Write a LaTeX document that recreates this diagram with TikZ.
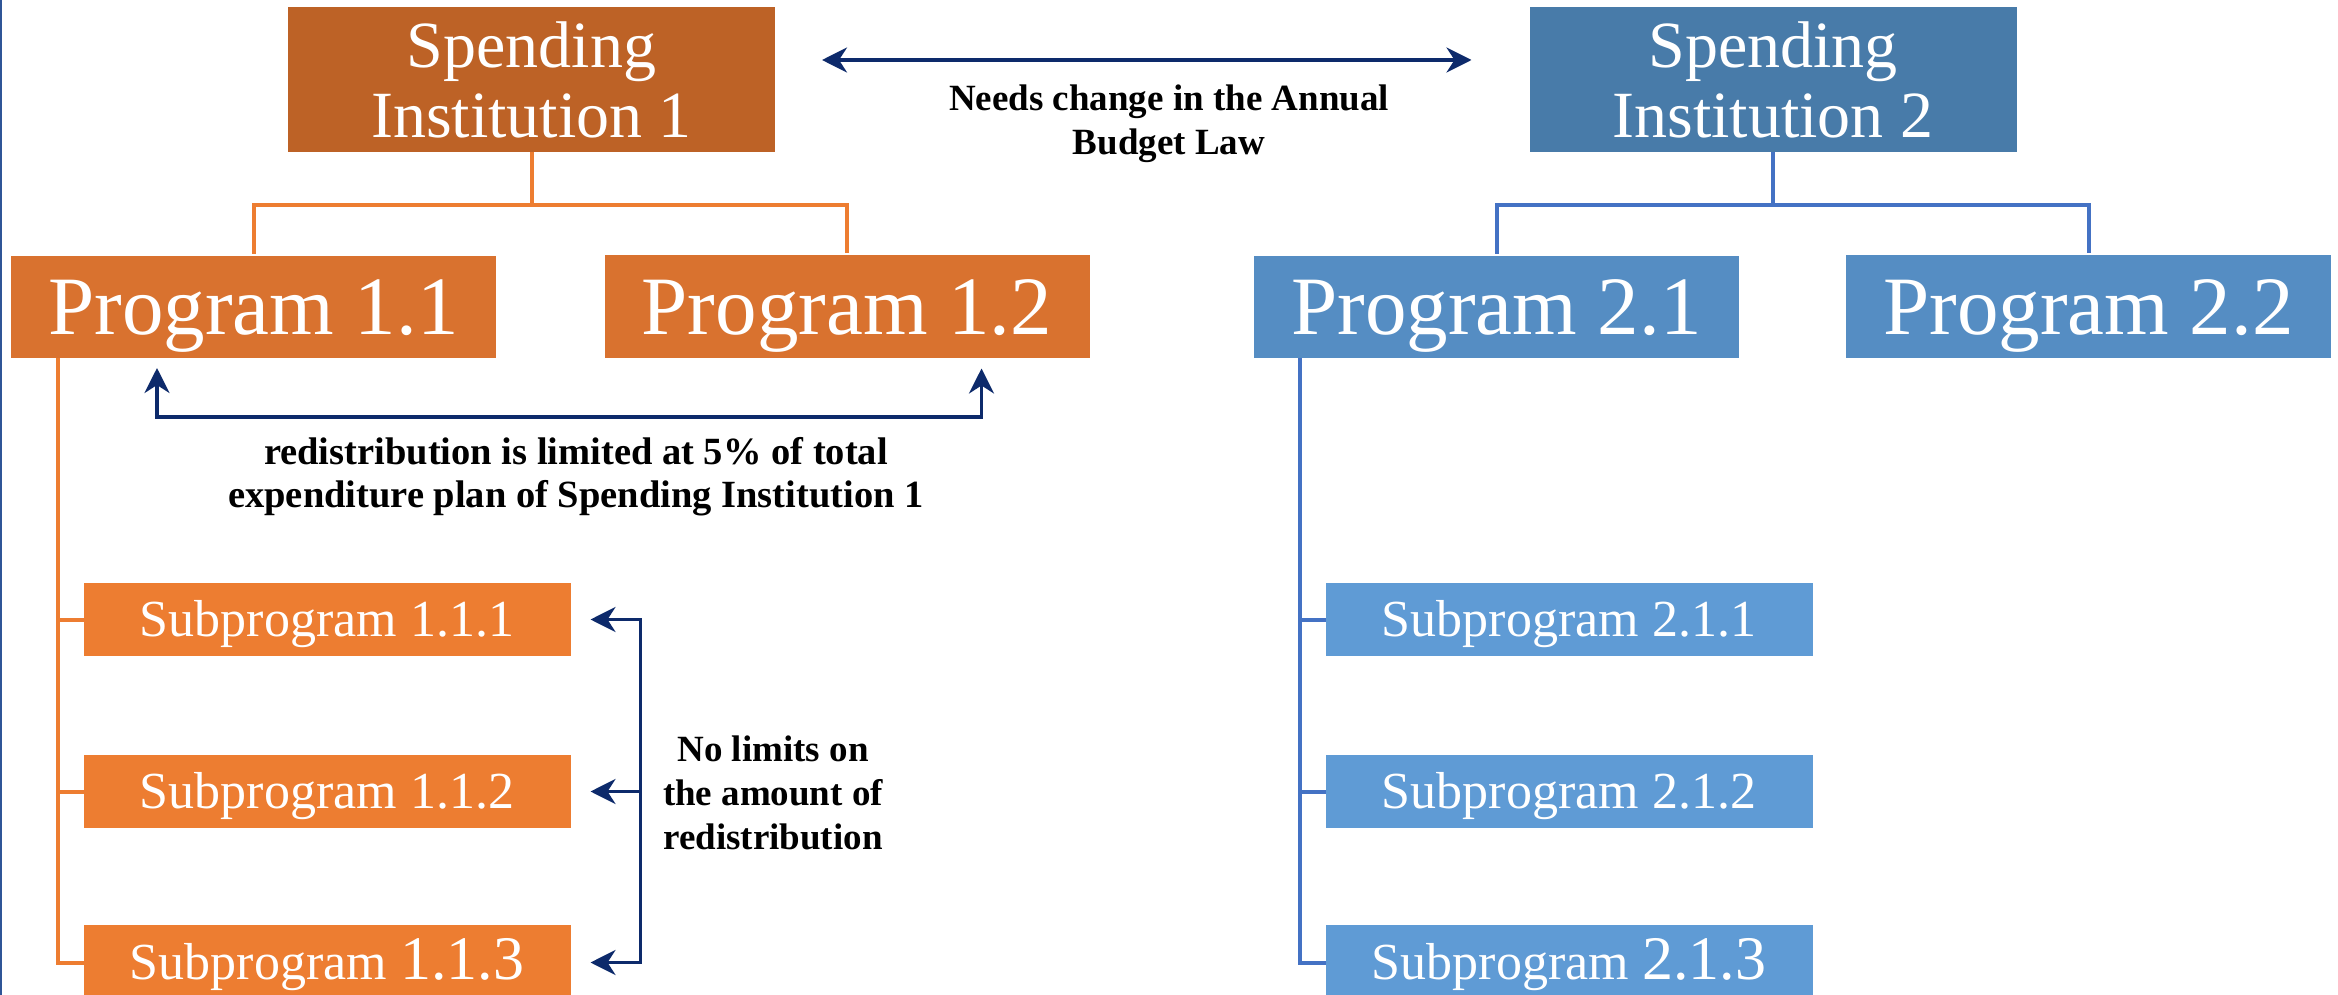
\documentclass[tikz,border=0pt]{standalone}
\usepackage{fontspec}
\setmainfont{Liberation Serif}
\usetikzlibrary{arrows.meta,calc}
\definecolor{instA}{HTML}{BD6226}
\definecolor{progA}{HTML}{D9722F}
\definecolor{subA}{HTML}{ED7D31}
\definecolor{instB}{HTML}{487BA9}
\definecolor{progB}{HTML}{558DC3}
\definecolor{subB}{HTML}{5F9BD5}
\definecolor{lineA}{HTML}{ED7D31}
\definecolor{lineB}{HTML}{4472C4}
\definecolor{arrownavy}{HTML}{0D2A6B}
\definecolor{edgeblue}{HTML}{2F5597}
\begin{document}
\begin{tikzpicture}[x=1pt,y=-1pt,
  >={Stealth[length=25pt,width=25pt,inset=8pt]},
  box/.style={inner sep=0pt, outer sep=0pt, text=white},
  instbox/.style={box, align=center, minimum width=487pt, minimum height=145pt, font=\fontsize{66}{70}\selectfont},
  progbox/.style={box, minimum width=485pt, minimum height=102pt, font=\fontsize{83}{83}\selectfont, text height=55pt, text depth=0pt},
  subbox/.style={box, minimum width=487pt, minimum height=73pt, font=\fontsize{52}{52}\selectfont, text height=34pt, text depth=0pt},
  treeA/.style={draw=lineA, line width=4pt},
  treeB/.style={draw=lineB, line width=4pt},
  conn/.style={draw=arrownavy, line width=3.5pt},
  note/.style={inner sep=0pt, align=center, text=black, font=\bfseries\fontsize{37}{44}\selectfont}
]
\useasboundingbox (0,0) rectangle (2338,995);
\fill[white] (0,0) rectangle (2338,995);
\draw[edgeblue, line width=2.5pt] (1,0) -- (1,995);

% institution 1 tree
\node[instbox, fill=instA] (si1) at (531.5,79.5) {Spending\\Institution 1};
\node[progbox, fill=progA] (p11) at (253.5,307) {Program 1.1};
\node[progbox, fill=progA] (p12) at (847,306.5) {Program 1.2};
\node[subbox, fill=subA] (s111) at (327,619.5) {Subprogram 1.1.1};
\node[subbox, fill=subA] (s112) at (327,791.5) {Subprogram 1.1.2};
\node[subbox, fill=subA, minimum height=75pt] (s113) at (327,962.5) {Subprogram {\fontsize{62}{62}\selectfont 1.1.3}};

% institution 2 tree
\node[instbox, fill=instB] (si2) at (1773,79.5) {Spending\\Institution 2};
\node[progbox, fill=progB] (p21) at (1496.5,307) {Program 2.1};
\node[progbox, fill=progB] (p22) at (2088.5,306.5) {Program 2.2};
\node[subbox, fill=subB] (s211) at (1569,619.5) {Subprogram 2.1.1};
\node[subbox, fill=subB] (s212) at (1569,791.5) {Subprogram 2.1.2};
\node[subbox, fill=subB, minimum height=75pt] (s213) at (1569,962.5) {Subprogram {\fontsize{62}{62}\selectfont 2.1.3}};

% tree connectors
\coordinate (hy) at (0,205);
\draw[treeA] (si1.south) -- (si1.south |- hy);
\draw[treeA] ([yshift=2pt]p11.north) |- (hy -| p12.north) -- ([yshift=2pt]p12.north);
\draw[treeB] (si2.south) -- (si2.south |- hy);
\draw[treeB] ([yshift=2pt]p21.north) |- (hy -| p22.north) -- ([yshift=2pt]p22.north);

\coordinate (tA) at ([xshift=47pt]p11.south west);
\draw[treeA] (tA) |- (s113.west);
\draw[treeA] (s111.west) -- (s111.west -| tA);
\draw[treeA] (s112.west) -- (s112.west -| tA);

\coordinate (tB) at ([xshift=46pt]p21.south west);
\draw[treeB] (tB) |- (s213.west);
\draw[treeB] (s211.west) -- (s211.west -| tB);
\draw[treeB] (s212.west) -- (s212.west -| tB);

% navy arrows
\draw[conn, <->] ([shift={(47pt,19.5pt)}]si1.east) -- ([shift={(-58pt,19.5pt)}]si2.west);
\coordinate (ra) at ([shift={(146pt,-10pt)}]p11.south west);
\coordinate (rb) at ([shift={(377pt,-11pt)}]p12.south west);
\draw[conn, <->] (ra) -- ++(0,49) -| (rb);
\draw[conn, <->] ([xshift=20pt]s111.east) -- ++(50,0) |- ([xshift=20pt]s113.east);
\draw[conn, ->] ([xshift=70pt]s112.east) -- ([xshift=20pt]s112.east);

% notes
\node[note, anchor=north] (needs) at (1169,85) {Needs change in the Annual\\Budget Law};
\node[note, anchor=north, font=\bfseries\fontsize{38.5}{43}\selectfont] (redist) at (576,437) {redistribution is limited at 5\% of total\\expenditure plan of Spending Institution 1};
\node[note, anchor=north] (nolim) at (773,736) {No limits on\\the amount of\\redistribution};
\end{tikzpicture}
\end{document}
